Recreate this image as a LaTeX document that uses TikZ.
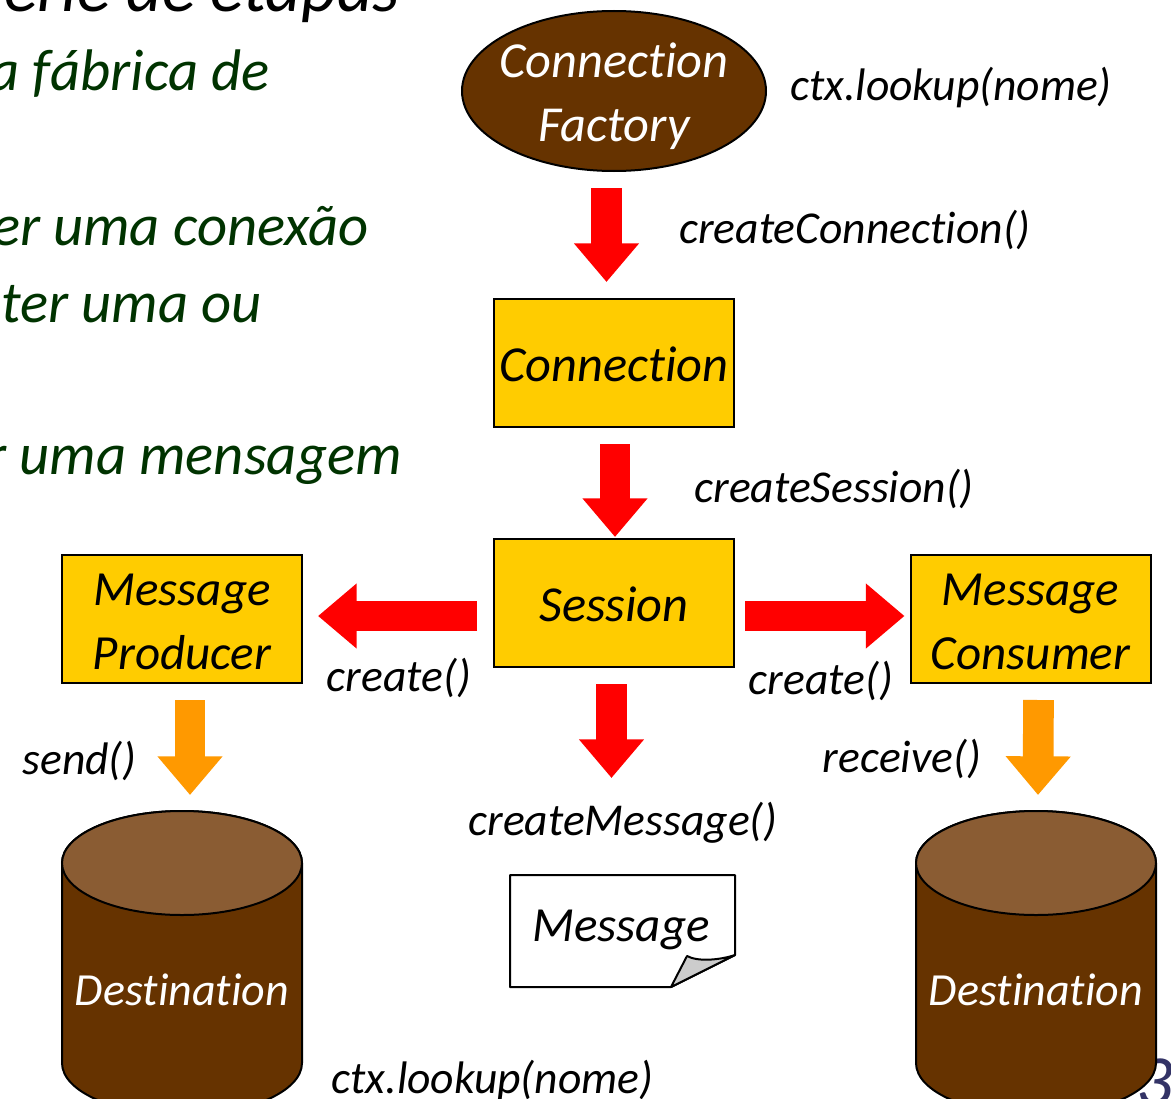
\documentclass[tikz,border=0pt]{standalone}
\usepackage{fontspec}
\setmainfont[Ligatures=NoCommon]{Carlito}
\usetikzlibrary{calc,arrows.meta,shapes.geometric}
\newcommand{\fz}[2]{\fontsize{#1}{#2}\selectfont\itshape}
\newcommand{\tl}[1]{\rule{0pt}{#1pt}}
\definecolor{brownmain}{HTML}{663300}
\definecolor{browntop}{HTML}{8A5C33}
\definecolor{gold}{HTML}{FFCC00}
\definecolor{bigred}{HTML}{FF0000}
\definecolor{bigorange}{HTML}{FF9900}
\definecolor{leafgreen}{HTML}{003300}
\definecolor{pagenavy}{HTML}{333366}
\tikzset{
  x=0.75pt,y=-0.75pt,
  yellowbox/.style={draw=black,line width=1.5pt,fill=gold,minimum width=180pt,minimum height=96pt,inner sep=0pt,align=center,font=\fz{37.8}{48}},
  redarrow/.style={draw=bigred,line width=23pt,-{Triangle[length=29pt,width=47pt]}},
  orangearrow/.style={draw=bigorange,line width=23pt,-{Triangle[length=29pt,width=47pt]}},
  callname/.style={inner sep=0pt,anchor=base,font=\fz{34.2}{36}},
  slidetext/.style={inner sep=0pt,anchor=base east,font=\fz{44}{48},text=leafgreen},
  cylbody/.style={draw=black,line width=1.5pt,fill=brownmain},
  cyltop/.style={draw=black,line width=1.5pt,fill=browntop},
}
\begin{document}
\begin{tikzpicture}
\useasboundingbox (0,0) rectangle (1171,1099);
\clip (0,0) rectangle (1171,1099);
\fill[white] (0,0) rectangle (1171,1099);
% slide background text
\node[slidetext,text=black,font=\fz{52}{56}] (t0) at (400,12) {erie de etapas};
\node[slidetext] (t1) at (270,90) {a fábrica de};
\node[slidetext] (t2) at (369,245) {er uma conexão};
\node[slidetext] (t3) at (262,322) {ter uma ou};
\node[slidetext] (t4) at (402,474) {r uma mensagem};
\node[inner sep=0pt,anchor=base,font=\fz{54}{60},text=pagenavy] (pg) at (1155,1105) {3};
% boxes
\node[ellipse,draw=black,line width=1.5pt,fill=brownmain,minimum width=228pt,minimum height=120pt,inner xsep=-12pt,inner ysep=-12pt,align=center,text=white,font=\fz{37.8}{48}] (cf) at (614,91) {\tl{33.3}Connection\\Factory};
\node[yellowbox] (conn) at (614,363) {\tl{28}Connection};
\node[yellowbox] (sess) at (614,603) {\tl{28}Session};
\node[yellowbox,font=\fz{36.8}{48}] (prod) at (182,619) {\tl{28}Message\\Producer};
\node[yellowbox,font=\fz{36.8}{48}] (cons) at (1030.5,619) {\tl{28}Message\\Consumer};
% cylinders
\path[cylbody] (62,863) -- (62,1063) arc[start angle=180,end angle=0,x radius=120,y radius=52] -- (302,863) arc[start angle=0,end angle=-180,x radius=120,y radius=52] -- cycle;
\path[cyltop] (182,863) ellipse[x radius=120,y radius=52];
\node[inner sep=0pt,text=white,font=\fz{34.5}{40}] (d1) at (182,990) {Destination};
\path[cylbody] (916,863) -- (916,1063) arc[start angle=180,end angle=0,x radius=120,y radius=52] -- (1156,863) arc[start angle=0,end angle=-180,x radius=120,y radius=52] -- cycle;
\path[cyltop] (1036,863) ellipse[x radius=120,y radius=52];
\node[inner sep=0pt,text=white,font=\fz{34.5}{40}] (d2) at (1036,990) {Destination};
% message
\draw[line width=1.5pt,line join=round,fill=white] (510,875) -- (735,875) -- (735,955) -- (671,987) -- (510,987) -- cycle;
\draw[line width=1.5pt,line join=round,fill=black!20] (671,987) -- (687,956) .. controls (698,962) and (720,960) .. (735,955) -- cycle;
\node[inner sep=0pt,font=\fz{36.8}{44}] (msg) at (621,930) {Message};
% arrows
\draw[redarrow] ($(cf.south)+(-7.5,16)$) -- ($(conn.north)+(-7.5,-16)$);
\draw[redarrow] ($(conn.south)+(1,16)$) -- ($(sess.north)+(1,-1)$);
\draw[redarrow] ($(sess.west)+(-16,13)$) -- ($(prod.east)+(15,-3)$);
\draw[redarrow] ($(sess.east)+(10,13)$) -- ($(cons.west)+(-5,-3)$);
\draw[redarrow] ($(sess.south)+(-2.5,16)$) -- (611.5,778);
\draw[orangearrow] ($(prod.south)+(8,16)$) -- ($(182,811)+(8,-16)$);
\draw[orangearrow] ($(cons.south)+(8,16)$) -- ($(1036,811)+(2,-16)$);
% labels
\node[callname] (l1) at (951,100) {ctx.lookup(nome)};
\node[callname] (l2) at (855,243) {createConnection()};
\node[callname] (l3) at (834,502) {createSession()};
\node[callname] (l4) at (399,691) {create()};
\node[callname] (l5) at (821,694) {create()};
\node[callname] (l6) at (79.5,774) {send()};
\node[callname] (l7) at (902,772) {receive()};
\node[callname] (l8) at (623,835) {createMessage()};
\node[callname] (l9) at (492.5,1093) {ctx.lookup(nome)};
\end{tikzpicture}
\end{document}
